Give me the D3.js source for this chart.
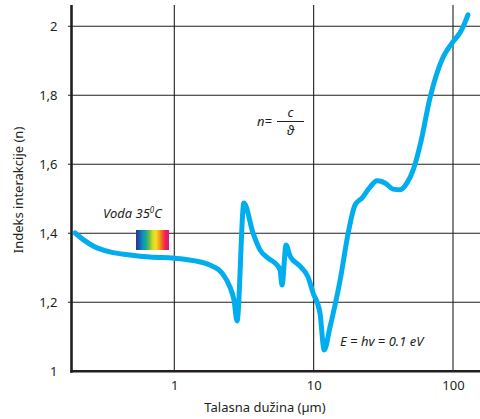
<!DOCTYPE html>
<html>
<head>
<meta charset="utf-8">
<script src="https://cdn.jsdelivr.net/npm/d3@7"></script>
<style>
html,body{margin:0;padding:0;background:#fff;}
svg{display:block;}
text{font-family:"Noto Sans",sans-serif;fill:#231f20;}
</style>
</head>
<body>
<svg id="chart" width="480" height="419"></svg>
<script>
// wavelength (µm)
const wavelength = [0.194,0.229,0.270,0.345,0.481,0.670,1.0,1.41,1.80,2.20,2.51,2.68,2.82,3.16,3.67,4.12,4.71,5.37,5.74,5.93,6.34,6.77,7.98,9.12,9.91,11.1,11.9,13.1,15.5,17.7,19.8,22.2,25.4,28.5,32.5,37.1,41.7,46.8,51.8,58.1,68.6,85.0,98.6,112,118,128];
// refractive index n
const refIndex = [1.401,1.378,1.360,1.346,1.337,1.331,1.328,1.320,1.308,1.285,1.244,1.207,1.146,1.488,1.401,1.352,1.328,1.311,1.294,1.250,1.366,1.334,1.305,1.273,1.227,1.169,1.062,1.128,1.265,1.401,1.482,1.502,1.534,1.552,1.546,1.528,1.526,1.546,1.584,1.656,1.795,1.911,1.952,1.981,1.998,2.033];
const xTicks = [1,10,100];
const xTickLabels = ["1","10","100"];
const yTicks = [1,1.2,1.4,1.6,1.8,2];
const yTickLabels = ["1","1,2","1,4","1,6","1,8","2"];
const spectrum = ["#2e3192","#1c5aa8","#0b8fc4","#16a98f","#6cbd45","#c9d92f","#f4e11b","#f7a51c","#f15a29","#ec1c5a","#e0177e"];

const svg = d3.select("#chart");
const x = d3.scaleLog().domain([1,100]).range([174.3,453]);
const y = d3.scaleLinear().domain([1,2]).range([371.3,26.3]);
const axisX = 71.5, axisTop = 5, right = 480;

// horizontal gridlines
svg.append("g").selectAll("line").data(yTicks.slice(1)).join("line")
  .attr("x1",68).attr("x2",right)
  .attr("y1",d=>y(d)).attr("y2",d=>y(d))
  .attr("stroke","#231f20").attr("stroke-width",1.1);
// vertical gridlines
svg.append("g").selectAll("line").data(xTicks).join("line")
  .attr("x1",d=>x(d)).attr("x2",d=>x(d))
  .attr("y1",axisTop).attr("y2",y(1))
  .attr("stroke","#231f20").attr("stroke-width",1.1);

// axes labels via d3 axes
const gy = svg.append("g").attr("transform",`translate(${axisX-14},0)`)
  .call(d3.axisLeft(y).tickValues(yTicks).tickFormat((d,i)=>yTickLabels[i]).tickSize(0).tickPadding(0));
gy.select(".domain").remove();
gy.selectAll("text").attr("font-size",13).attr("font-family","Noto Sans").attr("fill","#231f20");

const gx = svg.append("g").attr("transform",`translate(0,${y(1)+6})`)
  .call(d3.axisBottom(x).tickValues(xTicks).tickFormat((d,i)=>xTickLabels[i]).tickSize(0).tickPadding(3));
gx.select(".domain").remove();
gx.selectAll("text").attr("font-size",13).attr("font-family","Noto Sans").attr("fill","#231f20");

// axis lines
svg.append("line").attr("x1",axisX).attr("x2",axisX).attr("y1",axisTop).attr("y2",y(1)+1.5)
  .attr("stroke","#231f20").attr("stroke-width",2.6);
svg.append("line").attr("x1",axisX-1.3).attr("x2",right).attr("y1",y(1)).attr("y2",y(1))
  .attr("stroke","#231f20").attr("stroke-width",2.6);

// curve
const data = wavelength.map((w,i)=>({w,n:refIndex[i]}));
const line = d3.line().x(d=>x(d.w)).y(d=>y(d.n)).curve(d3.curveMonotoneX);
svg.append("path").datum(data).attr("d",line)
  .attr("fill","none").attr("stroke","#00aeef").attr("stroke-width",5)
  .attr("stroke-linecap","round").attr("stroke-linejoin","round");

// gradient box
const grad = svg.append("defs").append("linearGradient").attr("id","spec");
spectrum.forEach((c,i)=>grad.append("stop").attr("offset",i/(spectrum.length-1)).attr("stop-color",c));
svg.append("rect").attr("x",136).attr("y",230).attr("width",33).attr("height",20).attr("fill","url(#spec)");

// annotations
const voda = svg.append("text").attr("x",103).attr("y",218).attr("font-size",13).attr("font-style","italic");
voda.append("tspan").text("Voda 35");
voda.append("tspan").attr("font-size",8).attr("dy",-5).text("0");
voda.append("tspan").attr("dy",5).text("C");

svg.append("text").attr("x",257).attr("y",126).attr("font-size",13).attr("font-style","italic").text("n=");
svg.append("line").attr("x1",277).attr("x2",304).attr("y1",121.5).attr("y2",121.5).attr("stroke","#231f20").attr("stroke-width",1);
svg.append("text").attr("x",290.5).attr("y",117).attr("font-size",13).attr("font-style","italic").attr("text-anchor","middle").text("c");
svg.append("text").attr("x",290.5).attr("y",135).attr("font-size",13).attr("font-style","italic").attr("text-anchor","middle").text("ϑ");

svg.append("text").attr("x",340).attr("y",346).attr("font-size",13).attr("font-style","italic").text("E = hv = 0.1 eV");

// axis titles
svg.append("text").attr("x",265).attr("y",412).attr("font-size",13).attr("text-anchor","middle").text("Talasna dužina (µm)");
svg.append("text").attr("transform","translate(23,190) rotate(-90)").attr("font-size",13).attr("text-anchor","middle").text("Indeks interakcije (n)");
</script>
</body>
</html>
